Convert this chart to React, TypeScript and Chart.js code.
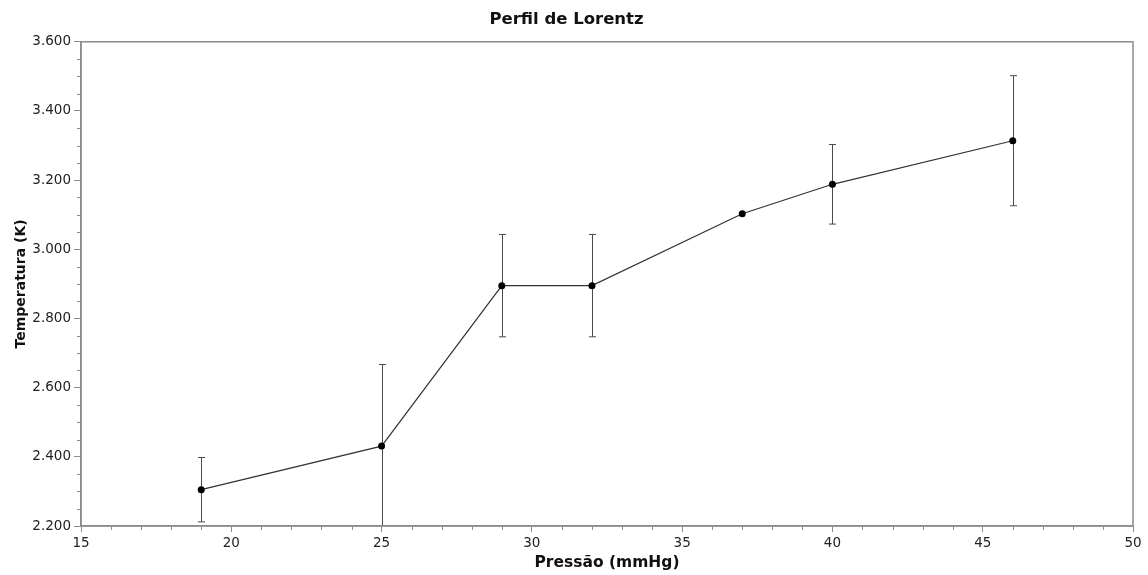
import React, { useEffect, useRef } from "react";
import { Chart, registerables } from "chart.js";

Chart.register(...registerables);

// Pressure (mmHg) and measured temperature (K) with symmetric uncertainty
const pressure = [19, 25, 29, 32, 37, 40, 46];
const temperature = [2.305, 2.431, 2.895, 2.895, 3.103, 3.188, 3.314];
const uncertainty = [0.093, 0.236, 0.148, 0.148, 0, 0.115, 0.188];

const xTicks = { min: 15, max: 50, step: 5, minorStep: 1 };
const yTicks = { min: 2.2, max: 3.6, step: 0.2, minorStep: 0.05 };

const AXIS_COLOR = "#8c8c8c";
const TEXT_COLOR = "#222222";
const FONT = "'DejaVu Sans', Verdana, sans-serif";

// Vertical error bars with caps, drawn beneath the markers
const errorBars = {
  id: "errorBars",
  beforeDatasetsDraw(chart: any) {
    const { ctx, chartArea, scales } = chart;
    const xs = scales.x;
    const ys = scales.y;
    ctx.save();
    ctx.beginPath();
    ctx.rect(chartArea.left, chartArea.top, chartArea.right - chartArea.left, chartArea.bottom - chartArea.top);
    ctx.clip();
    ctx.strokeStyle = "#4a4a4a";
    ctx.lineWidth = 1;
    pressure.forEach((p, i) => {
      const e = uncertainty[i];
      if (!e) return;
      const px = Math.round(xs.getPixelForValue(p)) + 0.5;
      const yTop = ys.getPixelForValue(temperature[i] + e);
      const yBot = ys.getPixelForValue(temperature[i] - e);
      ctx.beginPath();
      ctx.moveTo(px, yTop);
      ctx.lineTo(px, yBot);
      ctx.moveTo(px - 3.5, yTop);
      ctx.lineTo(px + 3.5, yTop);
      ctx.moveTo(px - 3.5, yBot);
      ctx.lineTo(px + 3.5, yBot);
      ctx.stroke();
    });
    ctx.restore();
  },
};

// Minor tick marks and the frame around the plotting area
const frameAndMinorTicks = {
  id: "frameAndMinorTicks",
  afterDraw(chart: any) {
    const { ctx, chartArea, scales } = chart;
    const xs = scales.x;
    const ys = scales.y;
    ctx.save();
    ctx.strokeStyle = AXIS_COLOR;
    ctx.lineWidth = 1;
    ctx.beginPath();
    const nx = Math.round((xTicks.max - xTicks.min) / xTicks.minorStep);
    for (let k = 0; k <= nx; k++) {
      const v = xTicks.min + k * xTicks.minorStep;
      if (Math.abs(v / xTicks.step - Math.round(v / xTicks.step)) < 1e-6) continue;
      const px = Math.round(xs.getPixelForValue(v)) + 0.5;
      ctx.moveTo(px, chartArea.bottom);
      ctx.lineTo(px, chartArea.bottom + 4);
    }
    const ny = Math.round((yTicks.max - yTicks.min) / yTicks.minorStep);
    for (let k = 0; k <= ny; k++) {
      const v = yTicks.min + k * yTicks.minorStep;
      const r = (v - yTicks.min) / yTicks.step;
      if (Math.abs(r - Math.round(r)) < 1e-6) continue;
      const py = Math.round(ys.getPixelForValue(v)) + 0.5;
      ctx.moveTo(chartArea.left, py);
      ctx.lineTo(chartArea.left - 4, py);
    }
    ctx.stroke();
    ctx.lineWidth = 1.5;
    ctx.strokeRect(chartArea.left, chartArea.top, chartArea.right - chartArea.left, chartArea.bottom - chartArea.top);
    ctx.restore();
  },
};

export default function App() {
  const canvasRef = useRef<HTMLCanvasElement | null>(null);

  useEffect(() => {
    document.body.style.margin = "0";
    const canvas = canvasRef.current;
    if (!canvas) return;
    const chart = new Chart(canvas, {
      type: "line",
      data: {
        datasets: [
          {
            label: "Temperatura",
            data: pressure.map((p, i) => ({ x: p, y: temperature[i] })),
            borderColor: "#333333",
            borderWidth: 1.2,
            pointRadius: 3.5,
            pointBackgroundColor: "#000000",
            pointBorderColor: "#000000",
            pointBorderWidth: 0,
            tension: 0,
            fill: false,
          },
        ],
      },
      options: {
        responsive: false,
        animation: false,
        layout: { padding: { top: 0, right: 15, bottom: 0, left: 0 } },
        plugins: {
          legend: { display: false },
          tooltip: { enabled: false },
          title: {
            display: true,
            text: "Perfil de Lorentz",
            color: "#111111",
            font: { family: FONT, size: 16.5, weight: "bold" },
            padding: { top: 10, bottom: 12 },
          },
        },
        scales: {
          x: {
            type: "linear",
            min: xTicks.min,
            max: xTicks.max,
            afterFit(scale: any) {
              scale.height = 49;
            },
            border: { display: true, color: AXIS_COLOR, width: 1.5 },
            grid: { drawOnChartArea: false, drawTicks: true, tickLength: 6, color: AXIS_COLOR },
            ticks: {
              stepSize: xTicks.step,
              color: TEXT_COLOR,
              font: { family: FONT, size: 13.5 },
              padding: 3,
              maxRotation: 0,
              callback: (v: any) => String(v),
            },
            title: {
              display: true,
              text: "Pressão (mmHg)",
              color: "#111111",
              font: { family: FONT, size: 15.5, weight: "bold" },
              padding: { top: 0, bottom: 3 },
            },
          },
          y: {
            type: "linear",
            min: yTicks.min,
            max: yTicks.max,
            afterFit(scale: any) {
              scale.width = 81;
            },
            border: { display: true, color: AXIS_COLOR, width: 1.5 },
            grid: { drawOnChartArea: false, drawTicks: true, tickLength: 7, color: AXIS_COLOR },
            ticks: {
              stepSize: yTicks.step,
              color: TEXT_COLOR,
              font: { family: FONT, size: 13.5 },
              padding: 3,
              callback: (v: any) => Number(v).toFixed(3),
            },
            title: {
              display: true,
              text: "Temperatura (K)",
              color: "#111111",
              font: { family: FONT, size: 14, weight: "bold" },
              padding: { top: 13, bottom: 0 },
            },
          },
        },
      },
      plugins: [errorBars, frameAndMinorTicks],
    } as any);
    return () => chart.destroy();
  }, []);

  return (
    <div style={{ width: 1148, height: 575, background: "#ffffff" }}>
      <canvas ref={canvasRef} width={1148} height={575} style={{ display: "block" }} />
    </div>
  );
}
